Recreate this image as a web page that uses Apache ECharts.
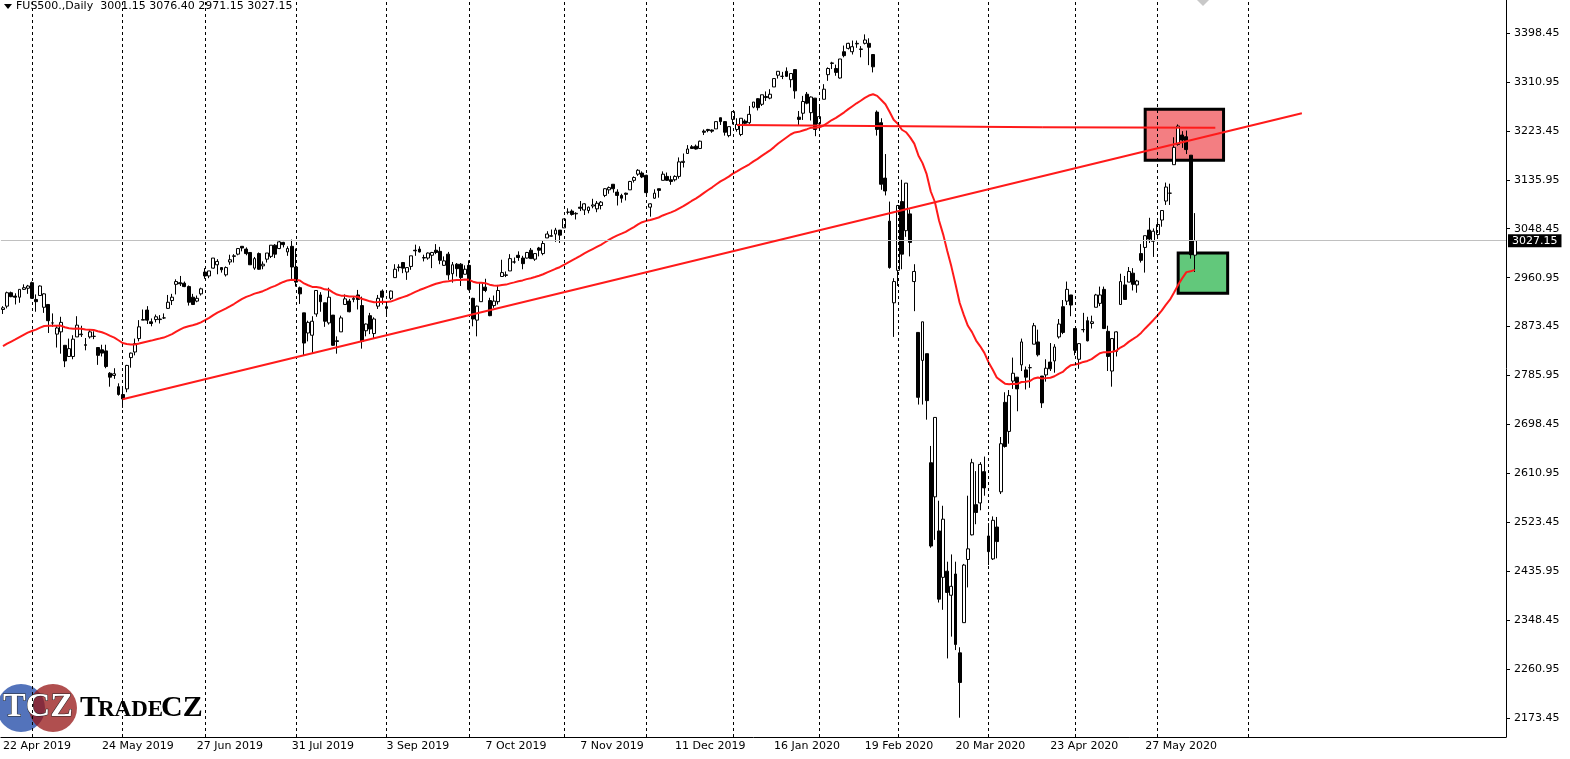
<!DOCTYPE html>
<html>
<head>
<meta charset="utf-8" />
<title>US500 Daily</title>
<script src="https://cdn.jsdelivr.net/npm/echarts@6/dist/echarts.min.js"></script>
<style>html,body{margin:0;padding:0;background:#fff}</style>
</head>
<body>
<div id="chart" style="width:1570px;height:759px;"></div>
<script type="text/javascript">
// daily bars [open, high, low, close], first bar = 22 Apr 2019
var bars = [
[2904,2910,2896,2907],[2910,2936,2906,2934],[2934,2936,2926,2927],[2928,2933,2913,2926],[2926,2940,2916,2940],[2940,2949,2939,2943],[2942,2948,2932,2946],
[2952,2954,2923,2924],[2922,2931,2900,2918],[2929,2947,2929,2946],[2908,2933,2898,2932],[2913,2913,2862,2884],[2880,2897,2873,2880],[2860,2875,2836,2871],[2864,2891,2825,2881],
[2840,2840,2801,2812],[2820,2852,2820,2834],[2820,2858,2815,2851],[2855,2892,2855,2876],[2859,2875,2855,2860],[2841,2853,2831,2840],[2855,2868,2852,2864],[2856,2865,2851,2856],
[2836,2836,2805,2822],[2832,2841,2820,2826],[2830,2841,2799,2802],[2790,2792,2766,2783],[2786,2799,2780,2789],[2766,2772,2750,2752],
[2752,2763,2728,2744],[2762,2805,2756,2804],[2818,2827,2800,2826],[2828,2852,2822,2843],[2852,2885,2847,2873],[2885,2904,2885,2886],[2903,2910,2878,2885],[2882,2888,2874,2879],
[2886,2895,2881,2891],[2886,2894,2879,2887],[2889,2897,2887,2889],[2906,2930,2905,2917],[2920,2932,2912,2926],[2949,2958,2931,2954],[2952,2964,2946,2950],[2951,2954,2944,2945],
[2945,2947,2911,2917],[2926,2932,2912,2913],[2919,2929,2917,2924],[2932,2943,2929,2941],
[2971,2978,2959,2964],[2964,2973,2960,2973],[2978,2996,2977,2996],[2984,2994,2967,2990],[2979,2980,2970,2975],[2966,2981,2963,2979],[2989,3002,2984,2993],[2999,3003,2988,3000],
[3003,3014,3001,3013],[3017,3017,3008,3014],[3012,3015,3001,3004],[3006,3006,2984,2984],[2978,2998,2975,2995],[3004,3006,2975,2976],[2982,2990,2976,2985],[2994,3005,2988,3005],
[2999,3019,2996,3019],[3019,3021,2996,3003],[3013,3027,3012,3025],[3024,3025,3015,3020],[3007,3017,3000,3013],[3017,3029,2958,2980],
[2980,3013,2945,2953],[2943,2945,2914,2932],[2898,2898,2822,2844],[2862,2884,2847,2881],[2858,2892,2825,2883],[2896,2938,2891,2938],[2930,2935,2900,2918],[2916,2916,2873,2883],
[2880,2943,2877,2926],[2894,2894,2839,2840],[2848,2856,2825,2847],[2864,2893,2864,2889],[2913,2931,2913,2923],[2919,2923,2899,2900],[2922,2928,2917,2924],[2930,2939,2904,2922],
[2911,2927,2834,2847],[2866,2879,2856,2878],[2893,2898,2860,2869],[2861,2890,2853,2887],[2910,2930,2905,2924],[2937,2940,2913,2926],
[2909,2914,2891,2906],[2924,2938,2921,2937],[2961,2985,2961,2976],[2980,2985,2972,2979],[2988,2989,2969,2978],[2971,2979,2957,2979],[2981,3000,2975,3000],[3010,3020,3000,3009],
[3012,3017,3006,3007],[2996,3002,2990,2997],[2996,3006,2993,3005],[3001,3007,2978,3006],[3010,3021,3003,3006],[3008,3016,2985,2992],[2983,2999,2982,2991],[3003,3007,2957,2966],
[2968,2989,2952,2984],[2985,2987,2963,2977],[2985,2987,2946,2961],[2967,2983,2967,2976],
[2983,2992,2938,2940],[2924,2925,2874,2887],[2885,2911,2856,2910],[2918,2953,2918,2952],[2944,2959,2935,2938],[2920,2925,2892,2893],[2911,2929,2907,2919],[2918,2948,2913,2938],
[2963,2993,2963,2970],[2965,2972,2962,2966],[2973,3003,2973,2995],[2989,2997,2986,2989],[3001,3008,2991,2997],[2996,3000,2976,2986],[2996,3007,2995,3006],[3010,3014,2995,2995],
[2994,3005,2991,3004],[3014,3016,2999,3010],[3004,3027,3001,3022],[3032,3044,3032,3039],[3035,3047,3034,3036],[3039,3050,3025,3046],[3046,3046,3023,3037],
[3050,3066,3050,3066],[3078,3085,3074,3078],[3080,3083,3072,3074],[3075,3078,3065,3076],[3087,3098,3080,3085],[3082,3094,3073,3093],[3081,3088,3076,3087],[3089,3102,3085,3091],
[3084,3098,3078,3094],[3090,3098,3083,3096],[3108,3121,3105,3120],[3118,3124,3111,3122],[3128,3128,3113,3120],[3114,3119,3090,3108],[3108,3111,3095,3103],[3112,3113,3099,3110],
[3118,3134,3118,3133],[3135,3142,3131,3140],[3146,3155,3143,3153],[3148,3151,3139,3141],
[3144,3145,3110,3113],[3087,3094,3070,3093],[3103,3119,3102,3112],[3120,3120,3104,3117],[3135,3151,3135,3146],[3142,3149,3134,3135],[3136,3143,3127,3133],[3136,3144,3133,3142],
[3142,3176,3138,3168],[3167,3183,3158,3169],[3183,3198,3183,3191],[3195,3198,3191,3192],[3196,3199,3190,3191],[3192,3206,3191,3205],[3223,3226,3216,3221],[3226,3227,3221,3224],
[3225,3226,3220,3223],[3227,3240,3227,3240],[3247,3247,3234,3240],[3240,3241,3215,3221],[3215,3231,3212,3231],
[3244,3258,3235,3258],[3226,3246,3222,3235],[3217,3246,3214,3246],[3241,3244,3233,3237],[3238,3268,3236,3253],[3266,3275,3264,3275],[3281,3282,3260,3265],[3271,3288,3268,3288],
[3285,3294,3277,3283],[3282,3298,3280,3289],[3302,3317,3302,3317],[3323,3330,3317,3330],[3321,3329,3316,3321],[3330,3337,3320,3321],[3315,3326,3301,3326],[3333,3334,3281,3295],
[3248,3259,3234,3244],[3255,3286,3243,3276],[3289,3293,3271,3273],[3256,3285,3242,3284],[3282,3282,3214,3226],
[3236,3268,3236,3249],[3280,3307,3280,3298],[3324,3337,3313,3335],[3344,3347,3334,3345],[3335,3342,3322,3328],[3318,3352,3317,3352],[3365,3376,3355,3358],[3371,3381,3369,3380],
[3365,3385,3360,3374],[3379,3385,3372,3380],[3369,3375,3355,3370],[3380,3396,3378,3386],[3380,3389,3341,3373],[3360,3360,3328,3338],[3257,3260,3215,3226],[3238,3246,3118,3128],
[3139,3182,3108,3116],[3062,3097,2977,2979],[2916,2960,2855,2954],
[2974,3091,2946,3090],[3097,3136,2976,3003],[3045,3130,3034,3130],[3075,3083,2999,3024],[2954,2985,2901,2972],[2863,2863,2734,2747],[2813,2882,2734,2882],[2825,2825,2707,2741],
[2630,2660,2478,2481],[2569,2711,2492,2711],[2508,2562,2380,2386],[2425,2553,2367,2529],[2436,2453,2280,2398],[2393,2466,2319,2409],[2431,2453,2295,2305],[2290,2300,2174,2237],
[2344,2449,2344,2447],[2457,2571,2407,2476],[2501,2637,2500,2630],[2555,2615,2520,2541],[2558,2631,2545,2627],[2614,2641,2571,2585],
[2499,2522,2447,2471],[2458,2534,2456,2527],[2515,2533,2459,2489],[2578,2676,2574,2664],[2738,2756,2657,2659],[2686,2760,2664,2750],[2776,2818,2762,2790],[2783,2783,2722,2762],
[2805,2852,2794,2846],[2796,2802,2761,2783],[2800,2806,2764,2800],[2842,2880,2842,2875],[2846,2868,2820,2823],[2785,2785,2728,2737],[2787,2815,2775,2799],[2810,2844,2794,2798],
[2812,2842,2791,2837],[2855,2887,2852,2878],[2909,2921,2860,2863],[2919,2954,2912,2940],[2930,2930,2892,2912],
[2870,2870,2822,2831],[2815,2844,2798,2843],[2868,2898,2863,2868],[2884,2891,2847,2848],[2879,2893,2870,2882],[2908,2932,2908,2930],[2915,2945,2910,2930],[2940,2945,2869,2870],
[2865,2875,2794,2820],[2794,2853,2766,2852],[2829,2865,2820,2864],[2913,2968,2913,2954],[2948,2964,2922,2922],[2953,2980,2953,2972],[2969,2978,2938,2949],[2948,2957,2934,2955],
[3004,3021,2988,2992],[3015,3036,2970,3036],[3046,3068,3023,3030],[3026,3049,2998,3044],
[3038,3062,3032,3056],[3064,3081,3052,3081],[3098,3131,3091,3123],[3112,3129,3091,3112],[3163,3212,3163,3194],[3199,3235,3197,3232],[3216,3223,3193,3207],[3213,3224,3182,3190],
[3180,3180,2995,3002],[3001.15,3076.4,2971.15,3027.15]
];
var holidays = ['2019-05-27','2019-07-04','2019-09-02','2019-11-28','2019-12-25','2020-01-01','2020-01-20','2020-02-17','2020-04-10','2020-05-25','2020-07-03'];
var labelDates = ['2019-04-22','2019-05-24','2019-06-27','2019-07-31','2019-09-03','2019-10-07','2019-11-07','2019-12-11','2020-01-16','2020-02-19','2020-03-20','2020-04-23','2020-05-27'];
var yLabels = [2173.45,2260.95,2348.45,2435.95,2523.45,2610.95,2698.45,2785.95,2873.45,2960.95,3048.45,3135.95,3223.45,3310.95,3398.45];
var lastPrice = 3027.15;
var maPeriod = 42, maSeed = 2835;
var totalSlots = 365;
var lastSeparator = '2020-07-01';

var months = ['Jan','Feb','Mar','Apr','May','Jun','Jul','Aug','Sep','Oct','Nov','Dec'];
function iso(d){ return d.toISOString().slice(0,10); }
var dates = [];
var d = new Date(Date.UTC(2019,3,22));
while (dates.length < totalSlots) {
  var wd = d.getUTCDay(), s = iso(d);
  if (wd !== 0 && wd !== 6 && holidays.indexOf(s) < 0) dates.push(s);
  d.setUTCDate(d.getUTCDate()+1);
}
// candlestick data in echarts order [open, close, low, high]
var kdata = bars.map(function(b){ return [b[0], b[3], b[2], b[1]]; });
// exponential moving average of closes
var ma = [], e = maSeed, k = 2/(maPeriod+1);
bars.forEach(function(b){ e = e + k*(b[3]-e); ma.push(+e.toFixed(2)); });

// month separators: first trading day of each month
var seps = [];
for (var i = 1; i < dates.length; i++)
  if (dates[i].slice(5,7) !== dates[i-1].slice(5,7) && dates[i] <= lastSeparator) seps.push({xAxis: dates[i]});

function fmtDate(s){ var p = s.split('-'); return (+p[2]) + ' ' + months[+p[1]-1] + ' ' + p[0]; }
var font = 'DejaVu Sans';

var chart = echarts.init(document.getElementById('chart'));
chart.setOption({
  animation: false,
  backgroundColor: '#fff',
  grid: {left: 0, right: 64, top: 0, bottom: 22},
  xAxis: {
    type: 'category', data: dates, boundaryGap: true,
    axisLine: {lineStyle: {color: '#000', width: 1}},
    axisTick: {alignWithLabel: true, length: 4, lineStyle: {color: '#000'}, interval: function(i, v){ return labelDates.indexOf(v) >= 0; }},
    axisLabel: {interval: function(i, v){ return labelDates.indexOf(v) >= 0; }, formatter: fmtDate, align: 'left', margin: 4, color: '#000', fontFamily: font, fontSize: 11},
    splitLine: {show: false}
  },
  yAxis: {
    type: 'value', position: 'right', min: 2139.5, max: 3457.5, scale: true,
    axisLine: {show: true, lineStyle: {color: '#000'}},
    axisTick: {show: true, customValues: yLabels, length: 4, lineStyle: {color: '#000'}},
    axisLabel: {customValues: yLabels, formatter: function(v){ return v.toFixed(2); }, color: '#000', fontFamily: font, fontSize: 11, margin: 8},
    splitLine: {show: false}
  },
  series: [
    {
      type: 'candlestick', data: kdata, barWidth: 3.4,
      itemStyle: {color: '#fff', color0: '#000', borderColor: '#000', borderColor0: '#000', borderWidth: 1},
      markLine: {
        silent: true, symbol: 'none', animation: false,
        label: {show: false},
        data: seps.map(function(s){ return Object.assign({lineStyle: {color: '#000', type: [3,3], width: 1}}, s); })
          .concat([{yAxis: lastPrice, lineStyle: {color: '#c0c0c0', type: 'solid', width: 1},
                    label: {show: true, position: 'end', formatter: lastPrice.toFixed(2), backgroundColor: '#000', color: '#fff', fontFamily: font, fontSize: 11, padding: [1,4], distance: 2}}])
      }
    },
    {
      type: 'line', data: ma, symbol: 'none', z: 3,
      lineStyle: {color: '#ff1a1a', width: 2}
    },
    {
      type: 'line', data: [], z: 4,
      markLine: {
        silent: true, symbol: 'none', label: {show: false},
        lineStyle: {color: '#ff1a1a', width: 2, type: 'solid'},
        data: [
          [{coord: [dates[29], 2743.5]}, {coord: [dates[315], 3255]}],
          [{coord: [dates[178], 3234]}, {coord: [dates[252], 3230]}],
          [{coord: [dates[252], 3230]}, {coord: [dates[294], 3229]}]
        ]
      },
      markArea: {
        silent: true,
        data: [
          [{coord: [dates[277], 3262], itemStyle: {color: 'rgba(240,90,95,0.78)', borderColor: '#000', borderWidth: 3}}, {coord: [dates[296], 3171]}],
          [{coord: [dates[285], 3005], itemStyle: {color: 'rgba(70,190,100,0.85)', borderColor: '#000', borderWidth: 3}}, {coord: [dates[297], 2933]}]
        ]
      }
    }
  ],
  graphic: [
    {type: 'polygon', shape: {points: [[4,4],[12,4],[8,9]]}, style: {fill: '#000'}},
    {type: 'text', left: 16, top: 1, style: {text: 'FUS500.,Daily  3001.15 3076.40 2971.15 3027.15', fill: '#000', font: '11px ' + font}},
    {type: 'polygon', shape: {points: [[1197,0],[1209,0],[1203,6]]}, style: {fill: '#c8c8c8'}},
    {type: 'circle', shape: {cx: 21, cy: 708, r: 24}, style: {fill: 'rgba(40,80,170,0.8)'}},
    {type: 'circle', shape: {cx: 53, cy: 708, r: 24}, style: {fill: 'rgba(150,20,20,0.75)'}},
    {type: 'text', x: 3, y: 690, style: {text: 'TCZ', fill: '#fff', stroke: '#222', lineWidth: 1, font: 'bold 34px "Liberation Serif"'}},
    {type: 'text', x: 80, y: 693, style: {text: 'T', fill: '#000', font: 'bold 30px "Liberation Serif"'}},
    {type: 'text', x: 98, y: 699, style: {text: 'RADE', fill: '#000', font: 'bold 23px "Liberation Serif"'}},
    {type: 'text', x: 161, y: 693, style: {text: 'CZ', fill: '#000', font: 'bold 30px "Liberation Serif"'}}
  ]
});
</script>
</body>
</html>
